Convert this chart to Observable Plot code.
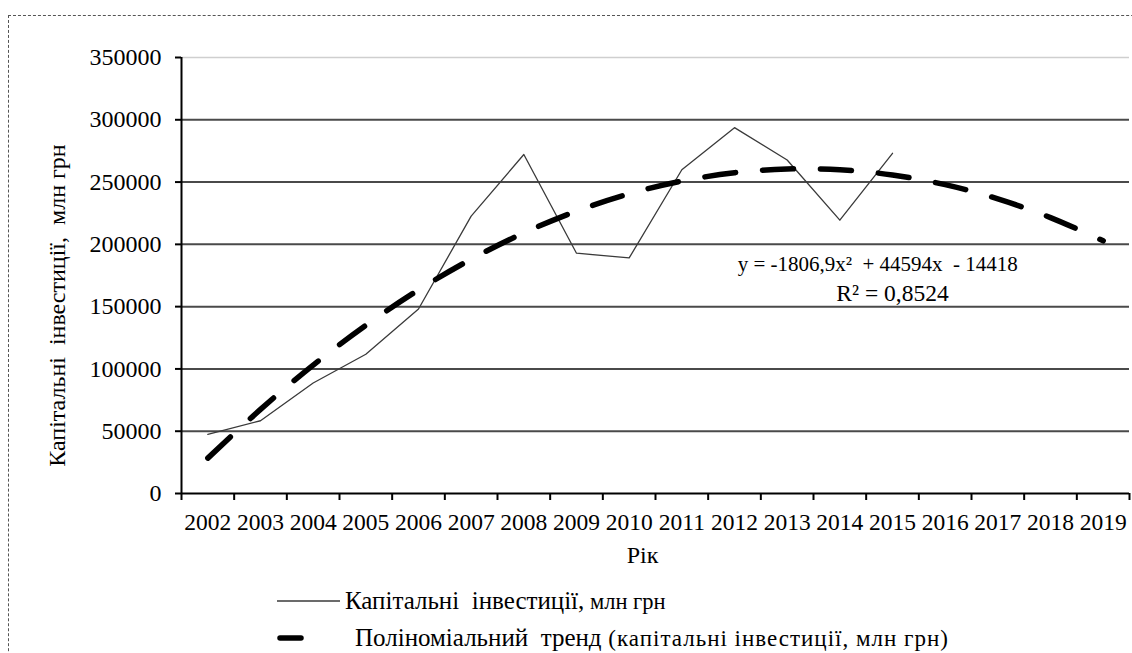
<!DOCTYPE html>
<html>
<head>
<meta charset="utf-8">
<script src="https://cdn.jsdelivr.net/npm/d3@7"></script>
<script src="https://cdn.jsdelivr.net/npm/@observablehq/plot@0.6"></script>
<style>
  html, body { margin: 0; padding: 0; background: #fff; }
  #wrap { position: relative; width: 1132px; height: 653px; overflow: hidden; font-family: "Liberation Serif", "Times New Roman", serif; }
  #frame { position: absolute; left: 8px; top: 15px; width: 1200px; height: 700px; border-left: 1.5px dashed #555; border-top: 1.5px dashed #555; }
  #chart { position: absolute; left: 0; top: 0; }
  .leg { position: absolute; white-space: pre; color: #000; line-height: 1; }
  .big { font-size: 25px; }
  .small { font-size: 22.5px; }
  .small2 { font-size: 23px; letter-spacing: 1px; }
</style>
</head>
<body>
<div id="wrap">
  <div id="frame"></div>
  <div id="chart"></div>
  <svg class="leg" style="left:270px;top:590px" width="80" height="60">
    <line x1="7" x2="70" y1="11" y2="11" stroke="#3a3a3a" stroke-width="1.3"></line>
    <line x1="10" x2="31" y1="48" y2="48" stroke="#000" stroke-width="5.5" stroke-linecap="round"></line>
  </svg>
  <div class="leg" style="left:345px;top:588px"><span class="big">Капітальні  інвестиції,</span><span class="small"> млн грн</span></div>
  <div class="leg" style="left:355px;top:625px"><span class="big">Поліноміальний  тренд</span><span class="small2"> (капітальні інвестиції, млн грн)</span></div>
</div>
<script>
// ---- data ----
const years = [2002, 2003, 2004, 2005, 2006, 2007, 2008, 2009, 2010, 2011, 2012, 2013, 2014, 2015, 2016, 2017, 2018, 2019];
const investYears = [2002, 2003, 2004, 2005, 2006, 2007, 2008, 2009, 2010, 2011, 2012, 2013, 2014, 2015];
const investments = [47500, 58400, 88700, 111800, 148100, 222700, 272100, 192900, 189100, 259900, 293700, 267700, 219400, 273100];
const trendValues = [28400, 67500, 103100, 135000, 163400, 188100, 209200, 226700, 240600, 250800, 257500, 260500, 259900, 255700, 247900, 236500, 221500, 202800];
const yTicks = [0, 50000, 100000, 150000, 200000, 250000, 300000, 350000];
const gridValues = [50000, 100000, 150000, 200000, 250000, 300000];
const topGrid = [350000];
const yLabel = "Капітальні  інвестиції,  млн грн";
const xLabel = "Рік";
const equation = "y = -1806,9x²\u00a0\u00a0+ 44594x\u00a0\u00a0- 14418";
const rSquared = "R² = 0,8524";

const invest = investYears.map((yr, i) => ({year: yr, value: investments[i]}));
const trend = years.map((yr, i) => ({year: yr, value: trendValues[i]}));
const boundaries = [years[0] - 0.5, ...years.map(y => y + 0.5)];
const eqPos = [{x: 2014.72, y: 183800, text: equation}];
const r2Pos = [{x: 2015.0, y: 160500, text: rSquared}];

const H = 580;
const chart = Plot.plot({
  width: 1132,
  height: H,
  marginLeft: 181,
  marginRight: 3,
  marginTop: 57,
  marginBottom: H - 493,
  x: {type: "linear", domain: [boundaries[0], boundaries[boundaries.length - 1]]},
  y: {domain: [0, 350000]},
  style: {fontFamily: "'Liberation Serif', 'Times New Roman', serif", background: "transparent", color: "#000", overflow: "visible"},
  marks: [
    Plot.ruleY(gridValues, {stroke: "#4a4a4a", strokeWidth: 2}),
    Plot.ruleY(topGrid, {stroke: "#cfcfcf", strokeWidth: 1.5}),
    Plot.axisY({ticks: yTicks, tickSize: 6, tickPadding: 14, fontSize: 24, tickFormat: d3.format("d"), label: null, strokeWidth: 2}),
    Plot.axisX({ticks: boundaries, tickSize: 7, tickFormat: () => "", label: null, strokeWidth: 2}),
    Plot.ruleX([boundaries[0]], {y1: 0, y2: 350000, stroke: "#000", strokeWidth: 2}),
    Plot.ruleY([0], {stroke: "#000", strokeWidth: 2}),
    Plot.text(years, {x: d => d, frameAnchor: "bottom", dy: 29, fontSize: 23.5, text: d => String(d), lineAnchor: "middle"}),
    Plot.line(invest, {x: "year", y: "value", stroke: "#3a3a3a", strokeWidth: 1.3}),
    Plot.line(trend, {x: "year", y: "value", stroke: "#000", strokeWidth: 5.5, strokeDasharray: "31,27", strokeLinecap: "round", curve: "catmull-rom"}),
    Plot.text(eqPos, {x: "x", y: "y", text: "text", fontSize: 21, lineAnchor: "middle"}),
    Plot.text(r2Pos, {x: "x", y: "y", text: "text", fontSize: 23.5, lineAnchor: "middle"}),
    Plot.text([xLabel], {frameAnchor: "bottom", text: d => d, dy: 62, dx: -13, fontSize: 24, lineAnchor: "middle"}),
    Plot.text([yLabel], {frameAnchor: "left", textAnchor: "middle", text: d => d, rotate: -90, dx: -124, dy: 30, fontSize: 24, lineAnchor: "middle"})
  ]
});
document.getElementById("chart").appendChild(chart);
</script>
</body>
</html>
